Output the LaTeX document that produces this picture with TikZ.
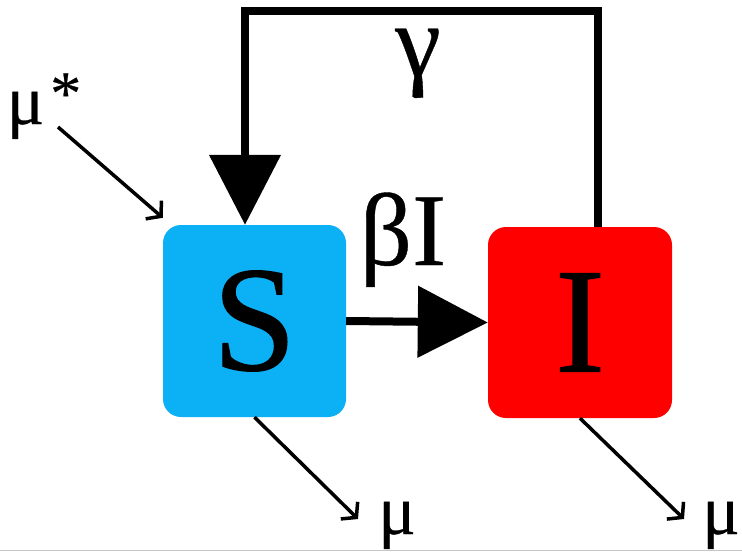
\documentclass[tikz,border=0pt]{standalone}
\usepackage{fontspec}
\setmainfont{Liberation Serif}
\newfontfamily\heavyserif[FakeBold=0.8]{Liberation Serif}
\newfontfamily\labelserif[FakeBold=0.4]{Liberation Serif}
\usetikzlibrary{arrows.meta}
\definecolor{susblue}{RGB}{12,176,245}
\definecolor{infred}{RGB}{255,0,0}
\tikzset{
  compartment/.style={rounded corners=18pt, inner sep=0pt,
    font=\heavyserif\fontsize{150}{150}\selectfont},
  flowline/.style={line width=8pt, -{Triangle[length=70pt,width=70pt]}},
  thinflow/.style={line width=3.5pt, -{Straight Barb[length=10pt,width=24pt]}},
  ratelabel/.style={font=\labelserif\fontsize{103}{103}\selectfont, anchor=base, inner sep=0pt},
  deathlabel/.style={font=\labelserif\fontsize{70}{70}\selectfont, anchor=base, inner sep=0pt}
}
\begin{document}
\begin{tikzpicture}[x=1pt,y=-1pt]
\path[use as bounding box] (0,0) rectangle (742,552);
% compartments
\node[compartment, fill=susblue, minimum width=183pt, minimum height=192pt] (S) at (254.5,321) {S};
\node[compartment, fill=infred, minimum width=184pt, minimum height=191pt] (I) at (580,322.5) {I};
% recovery loop from I back to S
\coordinate (fbR) at (598,11);
\coordinate (fbL) at (245,11);
\draw[flowline, line join=miter] (I.north -| fbR) -- (fbR) -- (fbL) -- (fbL |- S.north);
\node[ratelabel] (gamma) at (418,76) {γ};
% infection
\draw[flowline] (S.east) -- (I.west);
\node[ratelabel] (beta) at (403,265) {βI};
% births and deaths
\node[deathlabel] (birth) at (44,124) {μ\hspace{6pt}\raisebox{10pt}{\fontsize{62}{62}\selectfont *}};
\coordinate (bstart) at (58,127);
\draw[thinflow] (bstart) -- ([yshift=7pt]S.north west);
\node[deathlabel] (dS) at (397,534) {μ};
\node[deathlabel] (dI) at (721,534) {μ};
\coordinate (dSend) at (358,519);
\coordinate (dIend) at (684,519);
\draw[thinflow] (S.south) -- (dSend);
\draw[thinflow] (I.south) -- (dIend);
% lower frame edge
\draw[gray!45, line width=1.5pt] (0,550.5) -- (742,550.5);
\end{tikzpicture}
\end{document}
